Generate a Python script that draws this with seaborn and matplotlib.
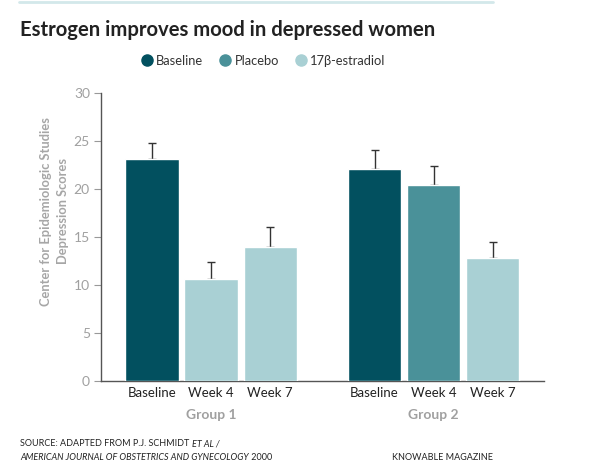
import pandas as pd
import matplotlib.pyplot as plt
import matplotlib.lines as mlines
import seaborn as sns

# Valores
groups = ["Group 1", "Group 1", "Group 1", "Group 2", "Group 2", "Group 2"]
weeks = ["Baseline", "Week 4", "Week 7", "Baseline", "Week 4", "Week 7"]
treatments = ["Baseline", "17β-estradiol", "17β-estradiol", "Baseline", "Placebo", "17β-estradiol"]
scores = [23.1, 10.6, 14.0, 22.1, 20.4, 12.8]
errors = [1.65, 1.8, 2.0, 2.0, 2.0, 1.7]

legend_order = ["Baseline", "Placebo", "17β-estradiol"]
colors = {"Baseline": "#02505f", "Placebo": "#4a9199", "17β-estradiol": "#a9d0d4"}


def main():
    df = pd.DataFrame({"group": groups, "week": weeks, "treatment": treatments,
                       "score": scores, "err": errors})
    # posição: índice da semana dentro do grupo + deslocamento do grupo
    week_idx = {"Baseline": 0, "Week 4": 1, "Week 7": 2}
    grp_idx = {"Group 1": 0, "Group 2": 1}
    df["pos"] = df["group"].map(grp_idx) * 3.77 + df["week"].map(week_idx)

    sns.set_style("white")
    plt.rcParams["font.family"] = ["Lato", "DejaVu Sans"]

    fig = plt.figure(figsize=(6, 4.62), dpi=100)
    ax = fig.add_axes([101 / 600, 1 - 381 / 462, 443 / 600, 288 / 462])

    sns.barplot(data=df, x="pos", y="score", hue="treatment", hue_order=legend_order,
                palette=colors, native_scale=True, dodge=False, width=0.9,
                saturation=1, errorbar=None, legend=False, ax=ax, zorder=3)
    ax.errorbar(df["pos"], df["score"], yerr=[[0] * len(df), df["err"]], fmt="none",
                ecolor="#333333", elinewidth=1, capsize=3, capthick=1, zorder=2)

    ax.set_xlim(-0.864, 6.64)
    ax.set_ylim(0, 30)
    ax.set_yticks(range(0, 31, 5))
    ax.set_xticks(df["pos"])
    ax.set_xticklabels(df["week"], fontsize=9.5, color="#222222")
    ax.tick_params(axis="x", length=0, pad=4)
    ax.tick_params(axis="y", length=5, width=0.8, color="#999999", labelsize=10,
                   labelcolor="#a0a0a0", pad=3, left=True)
    for s in ["top", "right"]:
        ax.spines[s].set_visible(False)
    for s in ["left", "bottom"]:
        ax.spines[s].set_color("#555555")
        ax.spines[s].set_linewidth(1)
    ax.set_xlabel("")
    ax.set_ylabel("Center for Epidemiologic Studies\nDepression Scores", fontsize=9.3,
                  fontweight="bold", color="#a6a6a6", linespacing=1.55)
    ax.yaxis.set_label_coords(-0.072, 0.59)

    # rótulos dos grupos
    for g, gdf in df.groupby("group"):
        ax.text(gdf["pos"].mean(), -0.118, g, transform=ax.get_xaxis_transform(),
                ha="center", va="center", fontsize=10, fontweight="bold", color="#a0a0a0")

    # legenda
    handles = [mlines.Line2D([], [], marker="o", linestyle="none", markersize=8,
                             markerfacecolor=colors[t], markeredgecolor=colors[t])
               for t in legend_order]
    fig.legend(handles, legend_order, loc="center", bbox_to_anchor=(263 / 600, 1 - 61 / 462),
               ncol=3, frameon=False, fontsize=9.3, handletextpad=0.2, columnspacing=1.2,
               handlelength=1, labelcolor="#333333")

    # título e linha superior
    fig.add_artist(mlines.Line2D([19 / 600, 493 / 600], [1 - 1.5 / 462] * 2,
                                 color="#d3e8ea", linewidth=2))
    fig.text(20 / 600, 1 - 30 / 462, "Estrogen improves mood in depressed women",
             fontsize=14.6, fontweight="bold", color="#222222", va="center")

    # rodapé com trechos em itálico
    fig.canvas.draw()
    r = fig.canvas.get_renderer()
    fs = 6.5
    y1, y2 = 1 - 444 / 462, 1 - 457 / 462
    t1 = fig.text(20 / 600, y1, "SOURCE: ADAPTED FROM P.J. SCHMIDT ", fontsize=fs,
                  color="#222222", va="center")
    w1 = t1.get_window_extent(r).width
    fig.text((20 + w1) / 600, y1, "ET AL /", fontsize=fs, style="italic",
             color="#222222", va="center")
    t2 = fig.text(20 / 600, y2, "AMERICAN JOURNAL OF OBSTETRICS AND GYNECOLOGY", fontsize=fs,
                  style="italic", color="#222222", va="center")
    w2 = t2.get_window_extent(r).width
    fig.text((20 + w2) / 600, y2, " 2000", fontsize=fs, color="#222222", va="center")
    fig.text(493 / 600, y2, "KNOWABLE MAGAZINE", fontsize=fs, color="#222222",
             va="center", ha="right")

    fig.savefig("out.png", dpi=100)


if __name__ == "__main__":
    main()
